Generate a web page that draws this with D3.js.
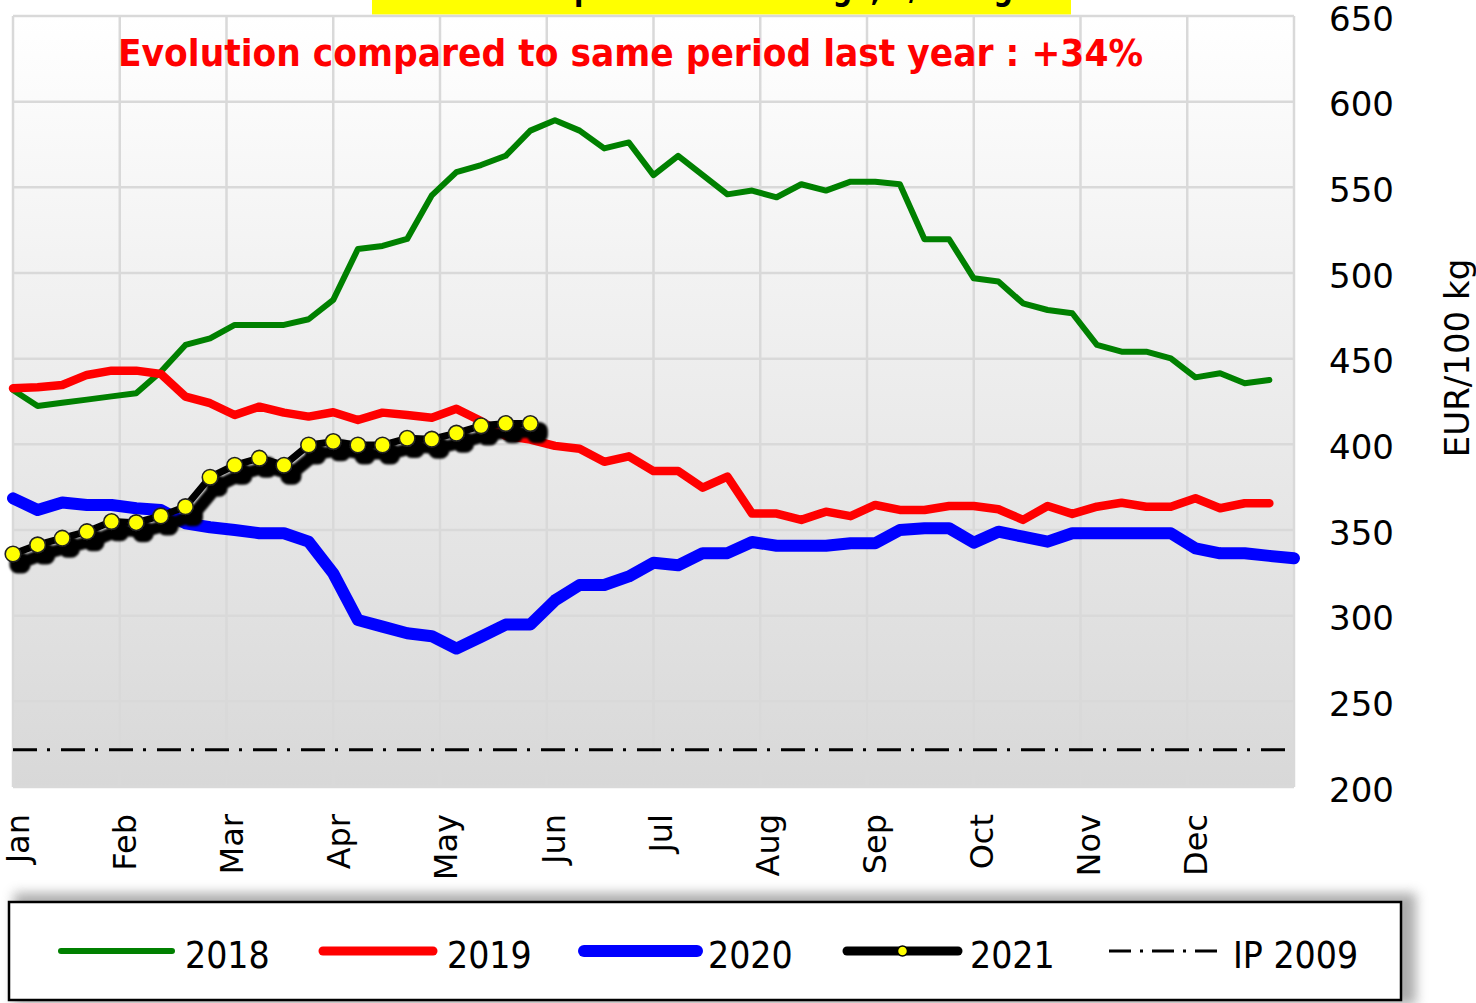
<!DOCTYPE html>
<html><head><meta charset="utf-8">
<script src="https://cdn.jsdelivr.net/npm/d3@7"></script>
<style>body{margin:0;background:#fff} svg{display:block}</style>
</head><body><svg id="c" width="1476" height="1003"></svg>
<script>
// ---------------- data ----------------
const months = ["Jan","Feb","Mar","Apr","May","Jun","Jul","Aug","Sep","Oct","Nov","Dec"];
const yTicks = [200,250,300,350,400,450,500,550,600,650];
const s2018 = [431.7,422.4,424.3,426.1,428.0,429.8,442.4,458.0,461.9,469.7,469.7,469.7,473.0,484.3,514.0,515.8,519.9,545.3,558.9,563.0,568.4,583.1,589.2,583.1,572.7,576.2,557.1,568.4,557.1,545.9,548.1,544.2,551.8,548.1,553.3,553.3,551.8,519.7,519.7,496.9,495.0,482.3,478.4,476.5,458.0,454.1,454.1,450.2,439.1,441.5,435.6,437.6];
const s2019 = [432.7,433.3,434.6,440.5,443.0,443.0,441.1,427.9,424.0,417.1,422.0,418.5,416.2,418.7,414.2,418.5,417.1,415.5,420.7,413.6,405.0,402.8,399.1,397.4,389.8,393.0,384.4,384.4,374.7,381.2,359.6,359.6,355.9,360.7,358.1,364.6,361.7,361.7,364.0,364.0,362.1,355.9,364.0,359.4,363.6,365.9,363.6,363.6,368.5,362.7,365.6,365.6];
const s2020 = [368.5,361.7,366.0,364.6,364.6,362.7,361.7,353.9,351.6,350.0,348.1,348.1,343.2,324.7,297.5,293.6,289.7,288.0,280.8,287.7,294.8,294.8,308.9,317.9,317.9,322.9,330.9,329.4,336.5,336.5,343.0,340.8,340.8,340.8,342.3,342.3,350.0,351.0,351.0,342.6,349.0,346.1,343.2,348.1,348.1,348.1,348.1,348.1,339.3,336.4,336.4,334.9,333.5];
const s2021 = [336.0,341.3,345.2,349.0,354.9,354.3,358.2,363.6,380.8,387.8,391.9,387.8,399.6,401.6,399.6,399.6,403.5,403.0,406.5,410.8,412.1,412.1];
const ip2009 = 221.75;
const legendLabels = ["2018","2019","2020","2021","IP 2009"];
const titleText = "Butter prices - EU average, €/100kg";
const subtitleText = "Evolution compared to same period last year : +34%";
const yAxisTitle = "EUR/100 kg";

// ---------------- chart ----------------
const svg = d3.select("#c");
const x = d3.scaleLinear().domain([1, 53]).range([13, 1294]);
const y = d3.scaleLinear().domain([200, 650]).range([787, 16]);
const defs = svg.append("defs");

const grad = defs.append("linearGradient").attr("id","bg").attr("x1",0).attr("y1",0).attr("x2",0).attr("y2",1);
grad.append("stop").attr("offset","0%").attr("stop-color","#ffffff");
grad.append("stop").attr("offset","100%").attr("stop-color","#d8d8d8");

const sh = defs.append("filter").attr("id","shadow").attr("x","-10%").attr("y","-30%").attr("width","130%").attr("height","170%");
sh.append("feMorphology").attr("in","SourceAlpha").attr("operator","dilate").attr("radius",1.6).attr("result","dil");
sh.append("feOffset").attr("in","dil").attr("dx",7).attr("dy",9).attr("result","off");
sh.append("feGaussianBlur").attr("in","off").attr("stdDeviation",1.1).attr("result","bl");
sh.append("feFlood").attr("flood-color","#000").attr("flood-opacity",1).attr("result","fl");
sh.append("feComposite").attr("in","fl").attr("in2","bl").attr("operator","in").attr("result","shd");
const mg = sh.append("feMerge");
mg.append("feMergeNode").attr("in","shd");
mg.append("feMergeNode").attr("in","SourceGraphic");

const blur = defs.append("filter").attr("id","blur").attr("x","-10%").attr("y","-40%").attr("width","120%").attr("height","180%");
blur.append("feGaussianBlur").attr("stdDeviation",6);

// title box (mostly cut off at the top, as in the original)
svg.append("rect").attr("x",372).attr("y",0).attr("width",699).attr("height",14.5).attr("fill","#ffff00");
svg.append("text").attr("x",467).attr("y",0)
  .attr("textLength",546).attr("lengthAdjust","spacingAndGlyphs")
  .attr("font-family","DejaVu Sans Condensed, DejaVu Sans").attr("font-weight","bold").attr("font-size",34)
  .attr("fill","#000").text(titleText);

// plot background
svg.append("rect").attr("x",x(1)).attr("y",y(650)).attr("width",x(53)-x(1)).attr("height",y(200)-y(650)).attr("fill","url(#bg)");

// grid
const monthPos = d3.range(13).map(i => 1 + i*52/12);
const grid = svg.append("g").attr("stroke","#d9d9d9").attr("stroke-width",2.5);
grid.selectAll("line.h").data(yTicks).join("line").attr("class","h")
  .attr("x1",x(1)).attr("x2",x(53)).attr("y1",d=>y(d)).attr("y2",d=>y(d));
grid.selectAll("line.v").data(monthPos).join("line").attr("class","v")
  .attr("x1",d=>x(d)).attr("x2",d=>x(d)).attr("y1",y(650)).attr("y2",y(200));

// subtitle
svg.append("text").attr("x",118).attr("y",66)
  .attr("textLength",1025).attr("lengthAdjust","spacingAndGlyphs")
  .attr("font-family","DejaVu Sans Condensed, DejaVu Sans").attr("font-weight","bold").attr("font-size",38)
  .attr("fill","#ff0000").text(subtitleText);

// IP 2009 line
svg.append("line").attr("x1",x(1)).attr("x2",x(53)).attr("y1",y(ip2009)).attr("y2",y(ip2009))
  .attr("stroke","#000").attr("stroke-width",3).attr("stroke-dasharray","24,10,3,11");

const line = d3.line().x((d,i)=>x(i+1)).y(d=>y(d));
function drawSeries(data, color, width) {
  svg.append("path").datum(data).attr("d",line).attr("fill","none")
    .attr("stroke",color).attr("stroke-width",width)
    .attr("stroke-linejoin","round").attr("stroke-linecap","round");
}
drawSeries(s2018, "#008000", 6);
drawSeries(s2019, "#ff0000", 8.5);
drawSeries(s2020, "#0000ff", 12);

const g21 = svg.append("g").attr("filter","url(#shadow)");
g21.append("path").datum(s2021).attr("d",line).attr("fill","none")
  .attr("stroke","#000").attr("stroke-width",7).attr("stroke-linejoin","round").attr("stroke-linecap","round");
g21.selectAll("circle").data(s2021).join("circle")
  .attr("cx",(d,i)=>x(i+1)).attr("cy",d=>y(d)).attr("r",7.8)
  .attr("fill","#ffff00").attr("stroke","#222").attr("stroke-width",1.6);

// y axis (right)
const yAxis = svg.append("g").attr("transform","translate(1300,0)")
  .call(d3.axisRight(y).tickValues(yTicks).tickSize(0).tickPadding(29));
yAxis.select(".domain").remove();
yAxis.selectAll("text").attr("font-family","DejaVu Sans").attr("font-size",34).attr("fill","#000")
  .attr("dy","0.42em");

svg.append("text").attr("transform","translate(1469,358) rotate(-90)")
  .attr("text-anchor","middle").attr("font-family","DejaVu Sans").attr("font-size",34).attr("fill","#000")
  .text(yAxisTitle);

// x axis (month labels)
const xg = svg.append("g");
xg.selectAll("text").data(months).join("text")
  .attr("transform",(d,i)=>`translate(${x(monthPos[i]) + 16 + i*0.35},814) rotate(-90)`)
  .attr("text-anchor","end").attr("font-family","DejaVu Sans").attr("font-size",32).attr("fill","#000")
  .text(d=>d);

// legend
svg.append("rect").attr("x",14).attr("y",893).attr("width",1402).attr("height",112)
  .attr("fill","#8a8a8a").attr("opacity",0.7).attr("filter","url(#blur)");
svg.append("rect").attr("x",9).attr("y",902).attr("width",1392).attr("height",98)
  .attr("fill","#fff").attr("stroke","#000").attr("stroke-width",2.5);

const legItems = [
  {x1:61, x2:172, color:"#008000", w:6, tx:185},
  {x1:323, x2:433, color:"#ff0000", w:9, tx:447},
  {x1:584, x2:697, color:"#0000ff", w:12, tx:708},
  {x1:847, x2:958, color:"#000", w:9, tx:970, marker:true},
  {x1:1109, x2:1219, color:"#000", w:3, tx:1233, dash:"22,9,3,9"}
];
const lg = svg.append("g");
legItems.forEach((it, i) => {
  const l = lg.append("line").attr("x1",it.x1).attr("x2",it.x2).attr("y1",951).attr("y2",951)
    .attr("stroke",it.color).attr("stroke-width",it.w);
  if (it.dash) l.attr("stroke-dasharray",it.dash); else l.attr("stroke-linecap","round");
  if (it.marker) lg.append("circle").attr("cx",(it.x1+it.x2)/2).attr("cy",951).attr("r",5)
    .attr("fill","#ffff00").attr("stroke","#000").attr("stroke-width",1.5);
  lg.append("text").attr("x",it.tx).attr("y",968)
    .attr("font-family","DejaVu Sans Condensed, DejaVu Sans").attr("font-size",37).attr("fill","#000")
    .text(legendLabels[i]);
});
</script></body></html>
